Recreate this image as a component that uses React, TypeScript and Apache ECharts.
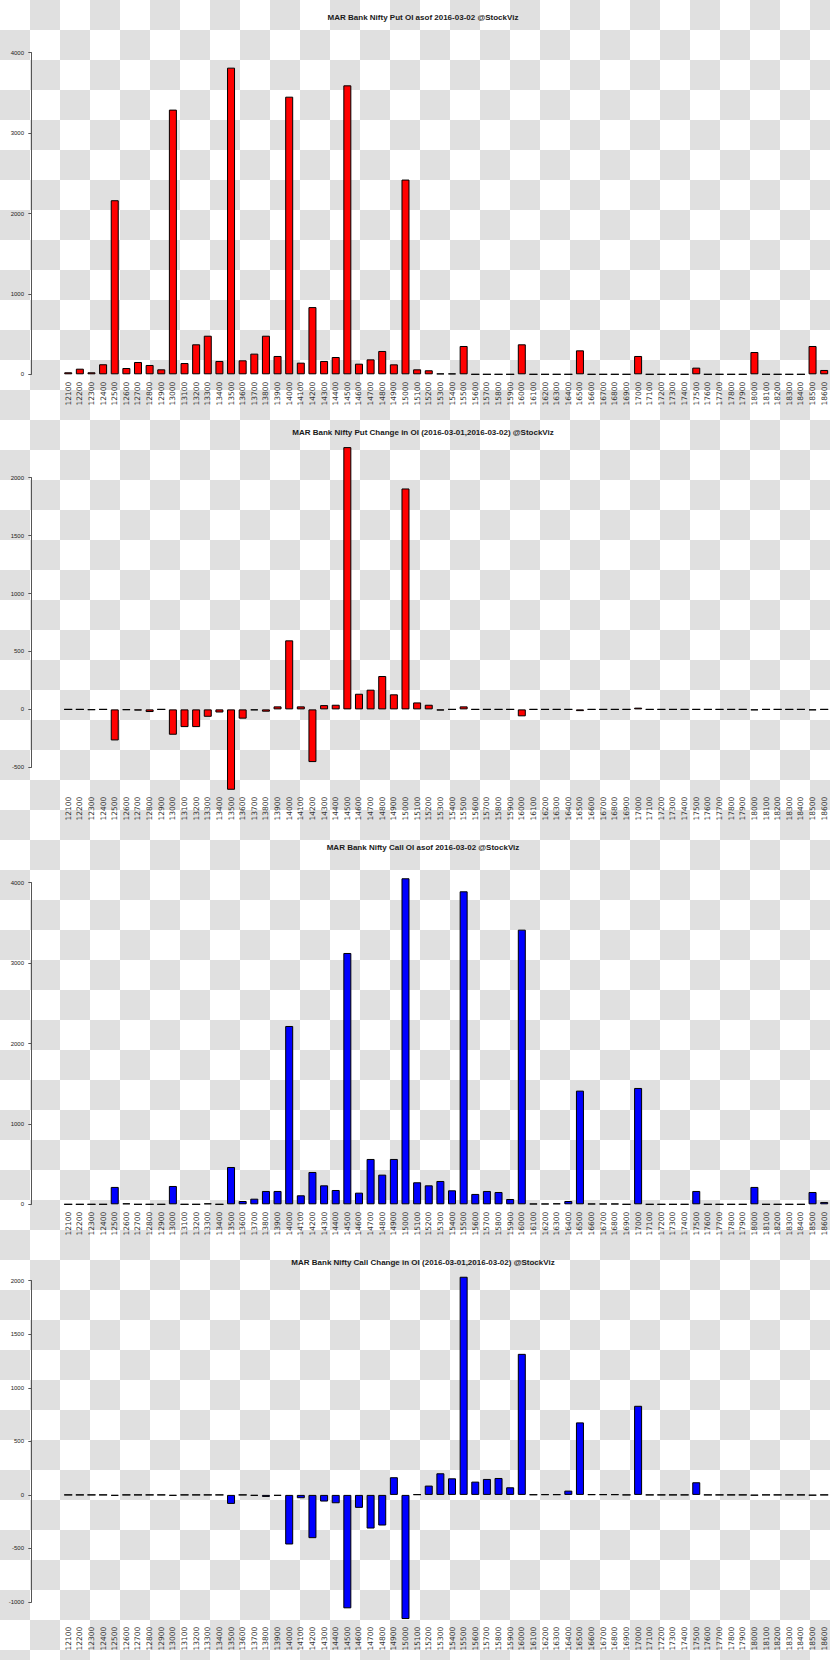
import React, { useEffect, useRef } from "react";
import * as echarts from "echarts";

const strikes = [
  "12100","12200","12300","12400","12500","12600","12700","12800","12900","13000",
  "13100","13200","13300","13400","13500","13600","13700","13800","13900","14000",
  "14100","14200","14300","14400","14500","14600","14700","14800","14900","15000",
  "15100","15200","15300","15400","15500","15600","15700","15800","15900","16000",
  "16100","16200","16300","16400","16500","16600","16700","16800","16900","17000",
  "17100","17200","17300","17400","17500","17600","17700","17800","17900","18000",
  "18100","18200","18300","18400","18500","18600",
];

const putOI = [
  25, 70, 25, 125, 2165, 78, 153, 116, 62, 3292,
  140, 373, 480, 166, 3814, 174, 257, 480, 228, 3453,
  145, 836, 166, 215, 3594, 132, 186, 290, 124, 2422,
  62, 50, 10, 10, 352, 0, 0, 0, 0, 373,
  0, 0, 0, 0, 298, 0, 0, 0, 0, 228,
  0, 0, 0, 0, 83, 0, 0, 0, 0, 277,
  0, 0, 0, 0, 352, 54,
];

const putChange = [
  0, 0, -5, 0, -268, -5, -10, -23, 0, -219,
  -153, -153, -64, -27, -694, -80, -8, -20, 26, 596,
  26, -455, 37, 40, 2264, 135, 170, 288, 130, 1907,
  60, 40, -10, 0, 26, 0, 0, 0, 0, -60,
  0, 0, 0, 0, -15, 0, 0, 0, 0, 15,
  0, 0, 0, 0, 0, 0, 0, 0, 0, -8,
  0, 0, 0, 0, -8, 0,
];

const callOI = [
  0, 0, 0, 0, 216, 12, 0, 0, 0, 228,
  0, 0, 12, 0, 464, 41, 70, 166, 166, 2218,
  112, 402, 236, 178, 3126, 145, 564, 369, 564, 4055,
  274, 236, 290, 174, 3893, 129, 166, 153, 66, 3416,
  8, 8, 12, 41, 1414, 8, 8, 8, 0, 1447,
  0, 0, 0, 0, 166, 0, 0, 0, 0, 216,
  0, 0, 0, 0, 153, 29,
];

const callChange = [
  0, 0, 0, 0, -8, 0, 0, 0, 0, -8,
  0, 0, 0, 0, -84, 0, -8, -19, -8, -463,
  -31, -404, -62, -78, -1059, -121, -314, -286, 165, -1159,
  5, 87, 202, 155, 2037, 124, 149, 158, 71, 1317,
  3, 5, 5, 40, 677, 5, 5, 5, 0, 832,
  0, 0, 0, 0, 118, 0, 0, 0, 0, -5,
  0, 0, 0, 0, -5, 0,
];

const titles = [
  "MAR Bank Nifty Put OI asof 2016-03-02 @StockViz",
  "MAR Bank Nifty Put Change in OI (2016-03-01,2016-03-02) @StockViz",
  "MAR Bank Nifty Call OI asof 2016-03-02 @StockViz",
  "MAR Bank Nifty Call Change in OI (2016-03-01,2016-03-02) @StockViz",
];

const panels = [
  { data: putOI, color: "#ff0000", top: 52.7, height: 321.6, min: 0, max: 4000, interval: 1000, xMargin: 7.4, titleY: 17.5 },
  { data: putChange, color: "#ff0000", top: 477.7, height: 289.6, min: -500, max: 2000, interval: 500, xMargin: 29.4, titleY: 432.5 },
  { data: callOI, color: "#0000ff", top: 882.7, height: 321.6, min: 0, max: 4000, interval: 1000, xMargin: 7.4, titleY: 847 },
  { data: callChange, color: "#0000ff", top: 1280.7, height: 321.3, min: -1000, max: 2000, interval: 500, xMargin: 24.7, titleY: 1262.3 },
];

const STEP = 11.76;
const GRID_LEFT = 62.4;

export default function App() {
  const ref = useRef<HTMLDivElement>(null);
  useEffect(() => {
    if (!ref.current) return;
    const chart = echarts.init(ref.current, undefined, { renderer: "svg" });
    const option: any = {
      animation: false,
      grid: panels.map((p) => ({
        left: GRID_LEFT,
        width: STEP * strikes.length,
        top: p.top,
        height: p.height,
        containLabel: false,
      })),
      xAxis: panels.map((p, i) => ({
        type: "category",
        gridIndex: i,
        data: strikes,
        axisLine: { show: false },
        axisTick: { show: false },
        axisLabel: {
          interval: 0,
          rotate: 90,
          fontSize: 7.5,
          fontFamily: "DejaVu Sans",
          color: "#333",
          margin: p.xMargin,
        },
      })),
      yAxis: panels.map((p, i) => ({
        type: "value",
        gridIndex: i,
        min: p.min,
        max: p.max,
        interval: p.interval,
        offset: GRID_LEFT - 31.7,
        splitLine: { show: false },
        axisLine: { show: true, lineStyle: { color: "#555", width: 1 } },
        axisTick: { show: true, length: 3.4, lineStyle: { color: "#555", width: 1 } },
        axisLabel: {
          fontSize: 6,
          fontFamily: "Liberation Sans",
          color: "#222",
          margin: 7.7,
          formatter: (v: number) => String(v),
        },
      })),
      series: panels.map((p, i) => ({
        type: "bar",
        xAxisIndex: i,
        yAxisIndex: i,
        data: p.data,
        barWidth: 8,
        clip: false,
        itemStyle: { color: p.color, borderColor: "#000", borderWidth: 1 },
      })),
      graphic: panels.map((p, i) => ({
        type: "text",
        x: 423,
        y: p.titleY,
        style: {
          text: titles[i],
          fontSize: 8,
          fontWeight: "bold",
          fontFamily: "Liberation Sans",
          fill: "#1a1a1a",
          align: "center",
          verticalAlign: "middle",
        },
      })),
    };
    chart.setOption(option);
    return () => chart.dispose();
  }, []);
  return (
    <div
      ref={ref}
      style={{
        position: "absolute",
        left: 0,
        top: 0,
        width: 830,
        height: 1660,
        overflow: "hidden",
        backgroundColor: "#ffffff",
        backgroundImage: "repeating-conic-gradient(#e0e0e0 0 25%, #ffffff 0 50%)",
        backgroundSize: "60px 60px",
      }}
    />
  );
}
